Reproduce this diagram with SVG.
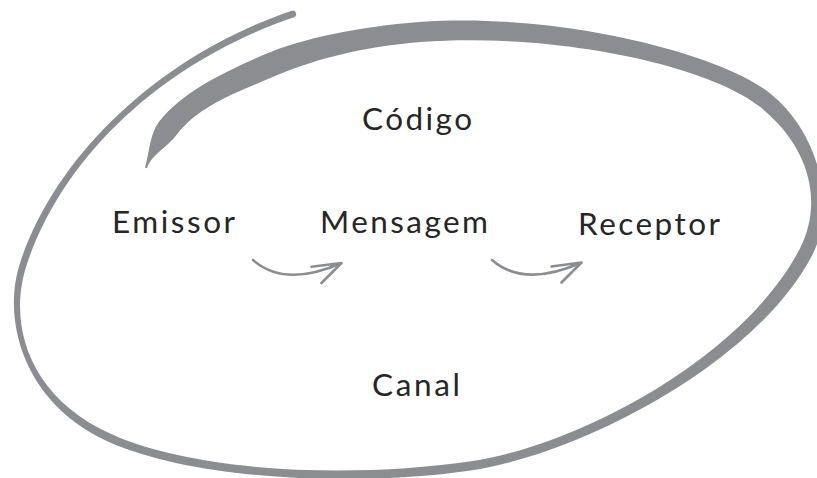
<svg xmlns="http://www.w3.org/2000/svg" width="817" height="478" viewBox="0 0 817 478">
  <style>
    .label { font-family: Lato, "Open Sans", "Liberation Sans", sans-serif; font-size: 31.5px; fill: #262626; text-anchor: middle; }
    .loop { fill: #8b8d90; stroke: none; }
    .arrow { fill: none; stroke: #8b8d90; stroke-width: 2.6; stroke-linecap: round; stroke-linejoin: round; }
  </style>
  <rect x="0" y="0" width="817" height="478" fill="#ffffff"/>
  <g id="loop">
    <path class="loop" d="M 291.9,10.7
      C 166.9,52.7 58.7,148.9 20.7,260.9
      C 0.7,318.9 23.4,403.7 108.4,441.7
      C 198.4,481.7 360.65,486.45 470.65,470.45
      C 580.65,454.45 756.2,363.2 812.2,255.2
      C 836.2,208.2 820.3,133.4 770.3,93.4
      C 720.3,53.4 559.3,12 419.3,22
      C 359.2,27 305.3,37 263.3,55
      C 221.3,73 181.35,93.2 159.35,121.2
      C 149.35,134.2 149,154.7 145,167.7
      L 147,168.3
      C 151,155.3 166.65,147.8 176.65,134.8
      C 198.65,106.8 230.7,95 272.7,77
      C 314.7,59 360.8,47 420.8,42
      C 560.7,32 709.7,66.6 759.7,106.6
      C 809.7,146.6 823.8,201.8 799.8,248.8
      C 743.8,356.8 579.35,445.55 469.35,461.55
      C 359.35,477.55 201.6,474.3 111.6,434.3
      C 26.6,396.3 7.3,321.1 27.3,263.1
      C 65.3,151.1 169.1,59.3 294.1,17.3
      A 3.5 3.5 0 0 0 291.9,10.7 Z"/>
  </g>
  <g id="codigo"><text class="label" x="417" y="130" textLength="110" lengthAdjust="spacing">Código</text></g>
  <g id="emissor"><text class="label" x="173.5" y="233" textLength="123" lengthAdjust="spacing">Emissor</text></g>
  <g id="mensagem"><text class="label" x="404" y="233" textLength="168" lengthAdjust="spacing">Mensagem</text></g>
  <g id="receptor"><text class="label" x="649" y="235" textLength="142" lengthAdjust="spacing">Receptor</text></g>
  <g id="canal"><text class="label" x="416" y="396" textLength="88" lengthAdjust="spacing">Canal</text></g>
  <g id="connectors">
    <path class="arrow" d="M 253,260 Q 285,288 341.5,263 M 311.5,266.8 L 341.5,263 L 321.5,283"/>
    <path class="arrow" d="M 492,260 Q 524,288 581.5,262.5 M 551.5,266.5 L 581.5,262.5 L 561.5,282.5"/>
  </g>
</svg>
